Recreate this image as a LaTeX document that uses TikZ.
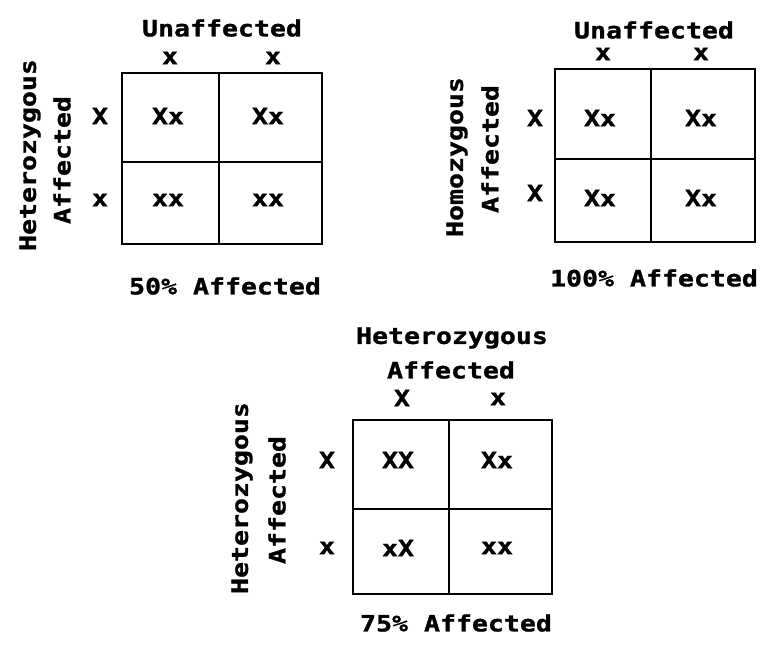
\documentclass[tikz,border=0pt]{standalone}
\usepackage{fontspec}
\newfontfamily\labfont{DejaVu Sans Mono}[FakeStretch=1.18,FakeBold=1.2]
\begin{document}
\begin{tikzpicture}[x=1pt,y=-1pt,
  lab/.style={font=\labfont\bfseries\fontsize{22.5}{24}\selectfont, inner sep=0pt},
  rot/.style={lab, rotate=90},
  outer/.style={line width=2pt},
  innerline/.style={line width=1.5pt}]
\useasboundingbox (0,0) rectangle (763,646);
% ---------- grid 1 ----------
\draw[outer] (122,73) rectangle (322,244);
\draw[innerline] (219,73) -- (219,244) (122,162) -- (322,162);
\node[lab] (g1top) at (222,28) {Unaffected};
\node[lab] (g1c1) at (170,58) {x};
\node[lab] (g1c2) at (273,58) {x};
\node[lab] (g1r1) at (100,116) {X};
\node[lab] (g1r2) at (100,200) {x};
\node[lab] (g1a) at (168,116) {Xx};
\node[lab] (g1b) at (268,116) {Xx};
\node[lab] (g1c) at (168,200) {xx};
\node[lab] (g1d) at (268,200) {xx};
\node[rot] (g1s1) at (30,155) {Heterozygous};
\node[rot] (g1s2) at (62,160) {Affected};
\node[lab] (g1res) at (225,286) {50\% Affected};
% ---------- grid 2 ----------
\draw[outer] (555,69) rectangle (755,242);
\draw[innerline] (651,69) -- (651,242) (555,159) -- (755,159);
\node[lab] (g2top) at (654,30) {Unaffected};
\node[lab] (g2c1) at (603,54) {x};
\node[lab] (g2c2) at (701,54) {x};
\node[lab] (g2r1) at (535,118) {X};
\node[lab] (g2r2) at (535,193) {X};
\node[lab] (g2a) at (600,118) {Xx};
\node[lab] (g2b) at (701,118) {Xx};
\node[lab] (g2c) at (600,198) {Xx};
\node[lab] (g2d) at (701,198) {Xx};
\node[rot] (g2s1) at (457,157) {Homozygous};
\node[rot] (g2s2) at (490,149) {Affected};
\node[lab] (g2res) at (654,278) {100\% Affected};
% ---------- grid 3 ----------
\draw[outer] (353,420) rectangle (552,594);
\draw[innerline] (449,420) -- (449,594) (353,509) -- (552,509);
\node[lab] (g3top1) at (452,338) {Heterozygous};
\node[lab] (g3top2) at (451,370) {Affected};
\node[lab] (g3c1) at (402,398) {X};
\node[lab] (g3c2) at (498,399) {x};
\node[lab] (g3r1) at (327,460) {X};
\node[lab] (g3r2) at (327,548) {x};
\node[lab] (g3a) at (398,460) {XX};
\node[lab] (g3b) at (497,460) {Xx};
\node[lab] (g3c) at (398,548) {xX};
\node[lab] (g3d) at (497,548) {xx};
\node[rot] (g3s1) at (242,498) {Heterozygous};
\node[rot] (g3s2) at (277,500) {Affected};
\node[lab] (g3res) at (456,623) {75\% Affected};
\end{tikzpicture}
\end{document}
